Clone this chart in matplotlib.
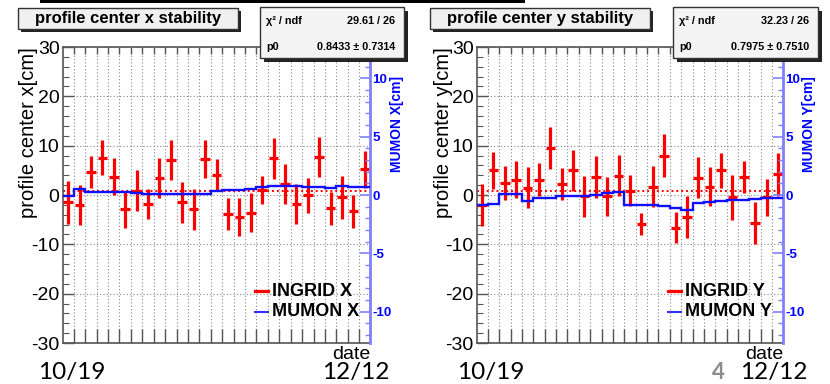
import matplotlib
matplotlib.use('Agg')
import matplotlib.pyplot as plt
import numpy as np
from matplotlib.patches import Rectangle
from matplotlib.lines import Line2D
from matplotlib.ticker import MultipleLocator

W, H = 830, 384
plt.rcParams['font.family'] = ['Liberation Sans', 'DejaVu Sans']
plt.rcParams['axes.unicode_minus'] = False

# ---------------- data ----------------
ingrid_x = [-1.5, -2.0, 4.7, 7.6, 3.7, -2.9, 0.9, -1.8, 3.4, 7.1, -1.5, -2.9, 7.3, 4.0,
            -3.8, -4.5, -3.6, 1.0, 7.4, 2.2, -1.8, -0.1, 7.7, -2.7, -0.5, -3.3, 5.2]
ingrid_x_err = [4.3, 4.0, 3.2, 3.6, 3.7, 3.7, 4.2, 3.0, 4.0, 4.1, 4.2, 4.1, 3.9, 3.2,
                3.2, 3.8, 4.0, 2.8, 4.2, 4.1, 4.1, 3.6, 4.1, 3.3, 4.3, 3.4, 3.8]
mumon_x = [-0.05, 0.48, 0.27, 0.27, 0.25, 0.23, 0.2, 0.1, 0.1, 0.1, 0.1, 0.1, 0.1, 0.33,
           0.42, 0.45, 0.5, 0.7, 0.75, 0.78, 0.78, 0.68, 0.65, 0.64, 0.74, 0.68, 0.66]

ingrid_y = [-2.0, 5.0, 2.4, 3.1, 1.5, 3.1, 9.5, 2.2, 5.0, -0.3, 3.7, -0.3, 3.9, 0.9,
            -5.9, 1.7, 8.0, -6.6, -4.5, 3.5, 1.7, 5.0, -0.5, 3.7, -5.7, -0.5, 4.2]
ingrid_y_err = [4.3, 3.8, 3.4, 3.8, 4.2, 3.4, 4.2, 3.3, 4.1, 4.1, 4.3, 4.0, 4.2, 3.2,
                2.2, 4.2, 4.3, 3.1, 4.3, 4.2, 4.0, 3.6, 4.6, 3.2, 4.2, 3.7, 4.4]
mumon_y = [-0.85, -0.8, 0.08, 0.08, -0.52, -0.28, -0.28, -0.12, -0.11, -0.1, 0.0, 0.2, 0.22,
           -0.85, -0.88, -0.9, -0.95, -1.14, -1.3, -0.68, -0.6, -0.55, -0.45, -0.42, -0.35,
           -0.28, -0.3]

fit_chi2 = ["29.61 / 26", "32.23 / 26"]
fit_p0 = [0.8433, 0.7975]
fit_p0_err = [0.7314, 0.7510]
titles = ["profile center x stability", "profile center y stability"]
ylabels = ["profile center x[cm]", "profile center y[cm]"]
y2labels = ["MUMON X[cm]", "MUMON Y[cm]"]
legend_labels = [["INGRID X", "MUMON X"], ["INGRID Y", "MUMON Y"]]
date_start, date_end = "10/19", "12/12"

fig = plt.figure(figsize=(8.3, 3.84), dpi=100)
fig.patch.set_facecolor('white')


def fx(px):
    return px / W


def fy(py):
    return 1 - py / H


def box(x0, y0, x1, y1, fill, shadow=3, lw=1.0):
    fig.add_artist(Rectangle((fx(x0 + shadow), fy(y1 + shadow)), fx(x1 - x0), (y1 - y0) / H,
                             transform=fig.transFigure, facecolor='#222222', edgecolor='none'))
    fig.add_artist(Rectangle((fx(x0), fy(y1)), fx(x1 - x0), (y1 - y0) / H,
                             transform=fig.transFigure, facecolor=fill, edgecolor='#333333', lw=lw))


# slide title remnant on top
fig.add_artist(Rectangle((fx(40), fy(3)), fx(485), 3 / H, transform=fig.transFigure,
                         facecolor='black', edgecolor='none'))

panels = [
    dict(l=63, r=370, t=47, b=343, vals=ingrid_x, err=ingrid_x_err, mu=mumon_x,
         tb=(18, 8, 238, 29), sb=(260, 7, 404, 58), ylab_x=29, y2lab_x=397,
         leg_x=255, dates=(38, 322)),
    dict(l=477, r=783, t=47, b=343, vals=ingrid_y, err=ingrid_y_err, mu=mumon_y,
         tb=(430, 8, 650, 29), sb=(673, 7, 818, 58), ylab_x=443, y2lab_x=809,
         leg_x=668, dates=(457, 740)),
]

for i, p in enumerate(panels):
    l, r, t, b = p['l'], p['r'], p['t'], p['b']
    ax = fig.add_axes([fx(l), fy(b), fx(r - l), (b - t) / H])
    n = len(p['vals'])
    xs = np.arange(n)
    ax.set_xlim(-0.45, n - 1 + 0.45)
    ax.set_ylim(-30, 30)
    ax.errorbar(xs, p['vals'], yerr=p['err'], xerr=0.42, fmt='none', ecolor='#ff0000',
                elinewidth=2.3, capsize=0, zorder=3)
    ax.axhline(fit_p0[i], color='#ff0000', ls=(0, (1, 1.5)), lw=1.4, zorder=2)

    for s in ['left', 'top', 'bottom']:
        ax.spines[s].set_color('#555555')
        ax.spines[s].set_linewidth(1.2)
    ax.spines['right'].set_visible(False)

    ax.yaxis.set_major_locator(MultipleLocator(10))
    ax.yaxis.set_minor_locator(MultipleLocator(2))
    ax.tick_params(axis='y', which='major', direction='in', length=8, width=1, color='#555555',
                   labelsize=14, pad=2.5, left=True, right=False)
    ax.tick_params(axis='y', which='minor', direction='in', length=4, width=0.8, color='#555555',
                   left=True, right=False)
    grid_pos = np.arange(n - 1) + 0.5
    ax.set_xticks(grid_pos)
    ax.set_xticks(grid_pos, minor=True)
    ax.xaxis.remove_overlapping_locs = False
    ax.tick_params(axis='x', which='major', direction='in', length=10, width=1, color='#555555',
                   bottom=True, top=False, labelbottom=False)
    ax.tick_params(axis='x', which='minor', direction='in', length=5, width=1, color='#555555',
                   bottom=False, top=True, labelbottom=False)
    ax.grid(True, which='major', color='#888888', ls=(0, (1, 2)), lw=0.8)
    ax.set_axisbelow(True)

    ax2 = ax.twinx()
    ax2.set_ylim(-12.7, 12.7)
    edges = np.arange(n + 1) - 0.5
    ax2.stairs(p['mu'], edges, baseline=None, color='#1010ff', lw=1.7, zorder=4)
    for s in ['left', 'top', 'bottom']:
        ax2.spines[s].set_visible(False)
    ax2.spines['right'].set_color('#8080ff')
    ax2.spines['right'].set_linewidth(2)
    ax2.yaxis.set_major_locator(MultipleLocator(5))
    ax2.yaxis.set_minor_locator(MultipleLocator(1))
    ax2.tick_params(axis='y', which='major', direction='in', length=7, width=1.2, color='#8080ff',
                    labelsize=9.7, labelcolor='#0000ff', pad=1.5)
    ax2.tick_params(axis='y', which='minor', direction='in', length=3.5, width=1, color='#8080ff')
    for lab in ax2.get_yticklabels():
        lab.set_fontweight('bold')

    # y labels
    fig.text(fx(p['ylab_x']), fy(t), ylabels[i], rotation=90, ha='center', va='top',
             fontsize=14.5, color='black')
    fig.text(fx(p['y2lab_x']), fy(124), y2labels[i], rotation=90, ha='center', va='center',
             fontsize=10, fontweight='bold', color='#0000ff')
    # x title
    fig.text(fx(r), fy(b + 3), 'date', ha='right', va='top', fontsize=14)

    # title box
    x0, y0, x1, y1 = p['tb']
    box(x0, y0, x1, y1, '#f0f0f0', shadow=3)
    fig.text(fx((x0 + x1) / 2), fy((y0 + y1) / 2 + 0.5), titles[i], ha='center', va='center',
             fontsize=12, fontweight='bold')

    # stat box
    x0, y0, x1, y1 = p['sb']
    box(x0, y0, x1, y1, '#f4f4f4', shadow=4)
    fig.text(fx(x0 + 6), fy(21), 'χ² / ndf', ha='left', va='center', fontsize=7.8,
             fontweight='bold')
    fig.text(fx(x1 - 9), fy(21), fit_chi2[i], ha='right', va='center', fontsize=7.8,
             fontweight='bold')
    fig.text(fx(x0 + 6), fy(46.5), 'p0', ha='left', va='center', fontsize=7.8,
             fontweight='bold')
    fig.text(fx(x1 - 9), fy(46.5), f'{fit_p0[i]:.4f} ± {fit_p0_err[i]:.4f}', ha='right',
             va='center', fontsize=7.8, fontweight='bold')

    # legend
    lx = p['leg_x']
    for j, (col, lw_) in enumerate([('#ff0000', 2.3), ('#3030ff', 1.5)]):
        yy = 291 + 21 * j
        fig.add_artist(Line2D([fx(lx), fx(lx + 13)], [fy(yy), fy(yy)], color=col, lw=lw_,
                              transform=fig.transFigure))
        fig.text(fx(lx + 17), fy(yy), legend_labels[i][j], ha='left', va='center',
                 fontsize=13, fontweight='bold')

    # dates
    d0, d1 = p['dates']
    fig.text(fx(d0), fy(379), date_start, ha='left', va='baseline', fontsize=17.5,
             family=['Lato', 'DejaVu Sans'])
    fig.text(fx(d1), fy(379), date_end, ha='left', va='baseline', fontsize=17.5,
             family=['Lato', 'DejaVu Sans'])

# slide number
fig.text(fx(712), fy(379), '4', ha='left', va='baseline', fontsize=16, fontweight='bold',
         color='#8c8c8c', family=['Lato', 'DejaVu Sans'])

fig.savefig('out.png', dpi=100, facecolor='white')
